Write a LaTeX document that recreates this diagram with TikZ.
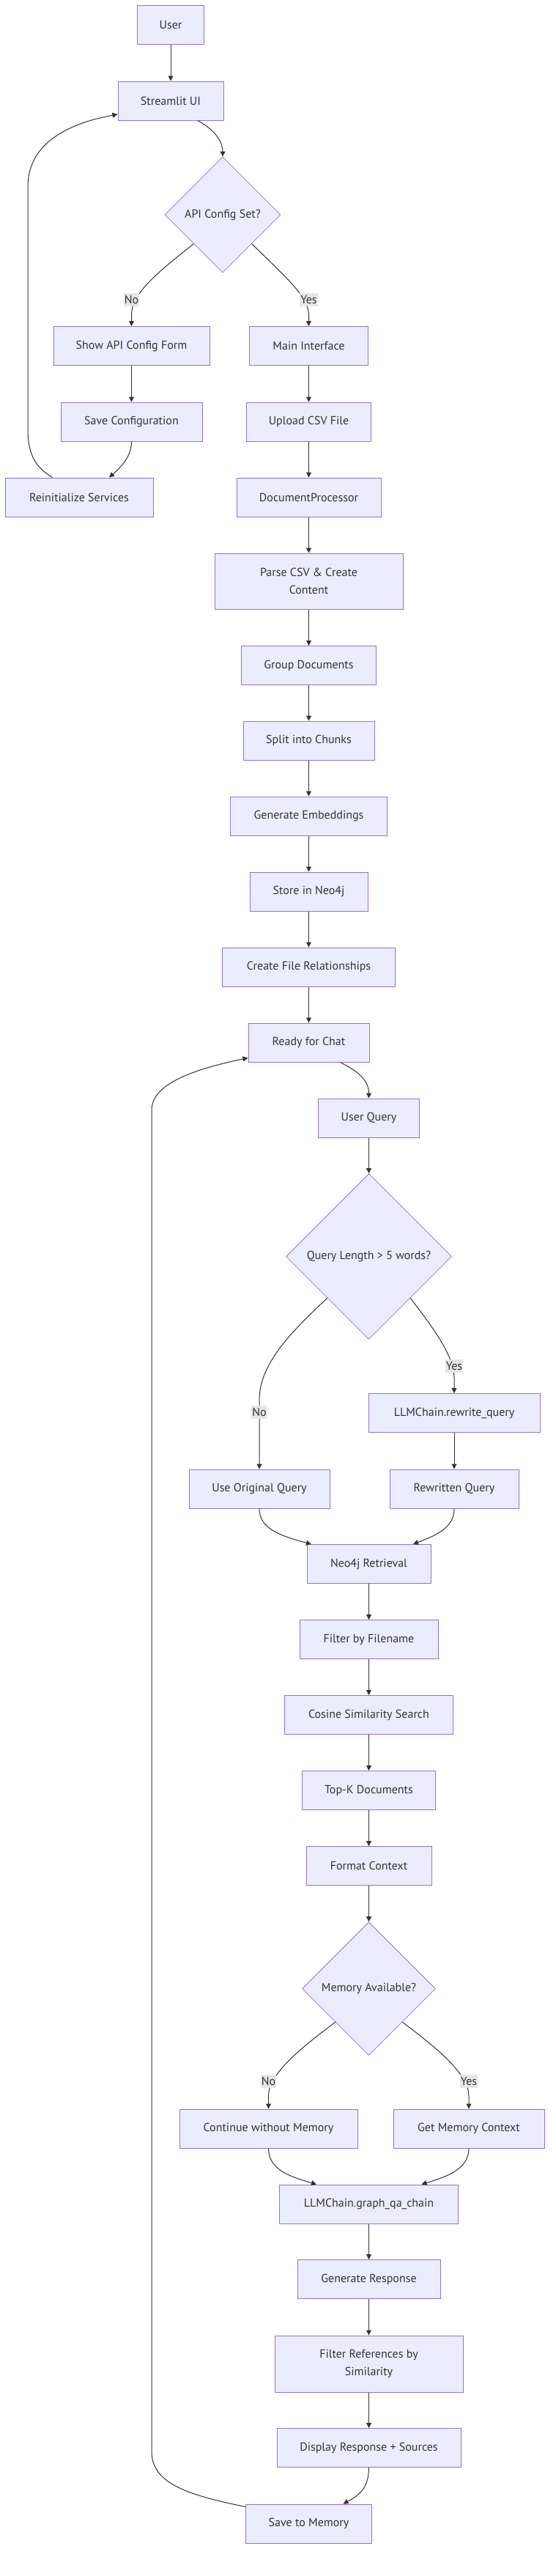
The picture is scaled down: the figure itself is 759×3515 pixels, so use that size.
\documentclass[tikz,border=0pt]{standalone}
\usepackage{fontspec}
\setmainfont{PT Sans}
\usetikzlibrary{shapes.geometric,arrows.meta}
\definecolor{boxfill}{HTML}{ECECFF}
\definecolor{boxline}{HTML}{9370DB}
\definecolor{ink}{HTML}{333333}
\definecolor{lblgray}{HTML}{E6E6E6}

\begin{document}
\begin{tikzpicture}[x=1pt,y=-1pt,
    box/.style={draw=boxline, fill=boxfill, line width=1pt, text=ink, minimum height=53, inner sep=0pt, align=center, font=\fontsize{16}{23.5}\selectfont},
    decide/.style={diamond, draw=boxline, fill=boxfill, line width=0.8pt, text=ink, inner sep=0pt, aspect=1, font=\fontsize{16}{23.5}\selectfont},
    flow/.style={draw=ink, line width=1pt, -{Triangle[length=7pt,width=7pt]}},
    lbl/.style={fill=lblgray, text=ink, inner xsep=1pt, inner ysep=3pt, font=\fontsize{16}{18}\selectfont}]
    \fill[white] (0,0) rectangle (759,3515);
    \node[box, minimum width=91] (user) at (233,34) {User};
    \node[box, minimum width=144] (ui) at (233,137.5) {Streamlit UI};
    \node[decide, minimum width=158, minimum height=158] (cfg) at (304,293) {API Config Set?};
    \node[box, minimum width=213] (form) at (179.5,472) {Show API Config Form};
    \node[box, minimum width=162] (main) at (421.5,472) {Main Interface};
    \node[box, minimum width=193] (save) at (179.5,575.5) {Save Configuration};
    \node[box, minimum width=170] (upload) at (421.5,575.5) {Upload CSV File};
    \node[box, minimum width=202] (reinit) at (108,678.5) {Reinitialize Services};
    \node[box, minimum width=197] (proc) at (421.5,678.5) {DocumentProcessor};
    \node[box, minimum width=257, minimum height=76] (parse) at (421.5,793) {Parse CSV \& Create\\Content};
    \node[box, minimum width=184] (group) at (421.5,908) {Group Documents};
    \node[box, minimum width=179] (split) at (421.5,1010.5) {Split into Chunks};
    \node[box, minimum width=214] (embed) at (421.5,1113.5) {Generate Embeddings};
    \node[box, minimum width=161] (store) at (421.5,1216.5) {Store in Neo4j};
    \node[box, minimum width=236] (rel) at (421.5,1319.5) {Create File Relationships};
    \node[box, minimum width=165] (ready) at (421.5,1422.5) {Ready for Chat};
    \node[box, minimum width=138] (query) at (503.5,1525.5) {User Query};
    \node[decide, minimum width=226, minimum height=226] (qlen) at (503.5,1714.5) {Query Length > 5 words?};
    \node[box, minimum width=234] (rewrite) at (620,1928) {LLMChain.rewrite\_query};
    \node[box, minimum width=192] (orig) at (354,2031.5) {Use Original Query};
    \node[box, minimum width=176] (rewritten) at (620,2031.5) {Rewritten Query};
    \node[box, minimum width=169] (retr) at (503.5,2134) {Neo4j Retrieval};
    \node[box, minimum width=189] (filt) at (503.5,2237) {Filter by Filename};
    \node[box, minimum width=230] (cos) at (503.5,2340) {Cosine Similarity Search};
    \node[box, minimum width=182] (topk) at (503.5,2443) {Top-K Documents};
    \node[box, minimum width=171] (fmt) at (503.5,2546) {Format Context};
    \node[decide, minimum width=182, minimum height=182] (mem) at (503.5,2713.5) {Memory Available?};
    \node[box, minimum width=243] (nomem) at (366.5,2904.5) {Continue without Memory};
    \node[box, minimum width=206] (getmem) at (640,2904.5) {Get Memory Context};
    \node[box, minimum width=244] (qa) at (503.5,3007.5) {LLMChain.graph\_qa\_chain};
    \node[box, minimum width=195] (gen) at (503.5,3110) {Generate Response};
    \node[box, minimum width=257, minimum height=77] (refs) at (503.5,3225.5) {Filter References by\\Similarity};
    \node[box, minimum width=251] (disp) at (503.5,3340) {Display Response + Sources};
    \node[box, minimum width=172] (savemem) at (421.5,3443.5) {Save to Memory};

    \foreach \a/\b in {user/ui, form/save, main/upload, upload/proc, proc/parse, parse/group, group/split, split/embed, embed/store, store/rel, rel/ready, query/qlen, rewrite/rewritten, retr/filt, filt/cos, cos/topk, topk/fmt, fmt/mem, qa/gen, gen/refs, refs/disp}
        \draw[flow] (\a.south) -- (\b.north);

    \draw[flow] ([xshift=37]ui.south) .. controls (289,175) and (304,190) .. (cfg.north);
    \draw[flow] (cfg.south west) .. controls (215,372) and (179.5,400) .. (179.5,430) -- (form.north);
    \draw[flow] (cfg.south east) .. controls (390,378) and (421.5,405) .. (421.5,430) -- (main.north);
    \draw[flow] (save.south) .. controls (179.5,625) and (162,640) .. ([xshift=41]reinit.north);
    \draw[flow] ([xshift=-36.5]reinit.north) .. controls (45,636) and (38,615) .. (38,585) -- (38,255) .. controls (38,200) and (85,170) .. ([yshift=-18.5]ui.west);
    \draw[flow] ([xshift=43]ready.south) .. controls (485,1460) and (503.5,1472) .. (query.north);
    \draw[flow] (qlen.south west) .. controls (400,1815) and (354,1860) .. (354,1910) -- (orig.north);
    \draw[flow] (qlen.south east) .. controls (590,1810) and (620,1850) .. (620,1880) -- (rewrite.north);
    \draw[flow] (orig.south) .. controls (354,2085) and (380,2095) .. ([xshift=-78.5]retr.north);
    \draw[flow] (rewritten.south) .. controls (620,2085) and (595,2095) .. ([xshift=60.5]retr.north);
    \draw[flow] (mem.south west) .. controls (410,2795) and (366.5,2830) .. (366.5,2860) -- (nomem.north);
    \draw[flow] (mem.south east) .. controls (597,2795) and (640,2830) .. (640,2860) -- (getmem.north);
    \draw[flow] (nomem.south) .. controls (366.5,2960) and (395,2970) .. ([xshift=-71.5]qa.north);
    \draw[flow] (getmem.south) .. controls (640,2960) and (610,2970) .. ([xshift=72]qa.north);
    \draw[flow] (disp.south) .. controls (503.5,3395) and (490,3405) .. ([xshift=47]savemem.north);
    \draw[flow] ([yshift=-4]savemem.north west) .. controls (260,3405) and (207,3390) .. (207,3345) -- (207,1515) .. controls (207,1480) and (260,1460) .. ([yshift=-21]ready.west);

    \node[lbl] (no1) at (179.5,409) {No};
    \node[lbl] (yes1) at (421.5,409) {Yes};
    \node[lbl] (no2) at (354,1927) {No};
    \node[lbl] (yes2) at (620,1864) {Yes};
    \node[lbl] (no3) at (366.5,2840) {No};
    \node[lbl] (yes3) at (640,2840) {Yes};
\end{tikzpicture}
\end{document}
